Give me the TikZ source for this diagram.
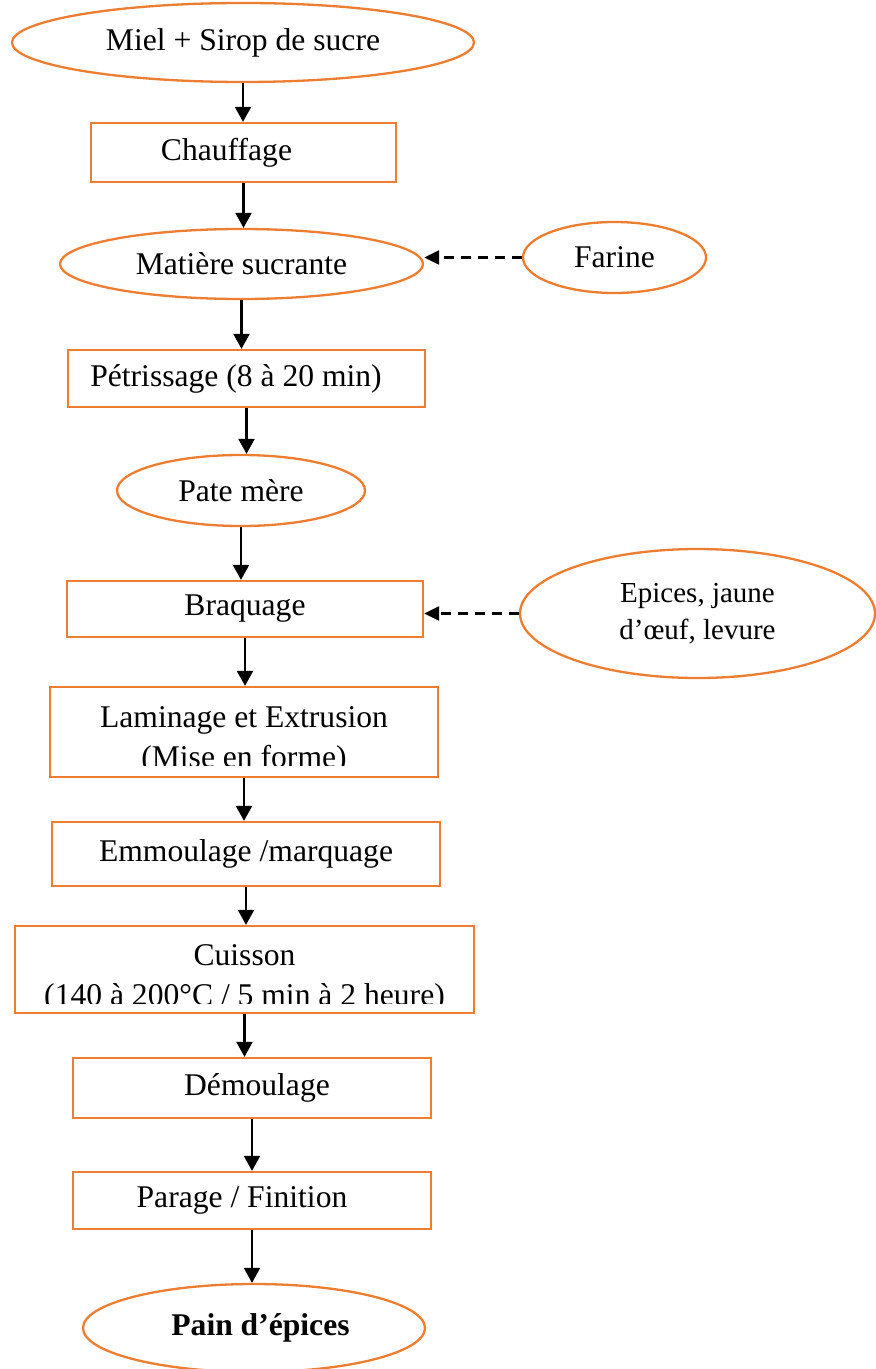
\documentclass[tikz,border=0pt]{standalone}
\usepackage{fontspec}
\setmainfont{Liberation Serif}
\usetikzlibrary{arrows.meta,shapes.geometric}
\definecolor{orangeword}{HTML}{ED7D31}
\tikzset{
>={Triangle[length=7.5pt,width=8pt]},
boite/.style={rectangle,draw=orangeword,line width=1.15pt,inner sep=0pt},
ovale/.style={ellipse,draw=orangeword,line width=1.15pt,inner sep=0pt},
fleche/.style={->,line width=1.15pt},
pointille/.style={-{Triangle[length=7.5pt,width=7pt]},line width=1.15pt,dash pattern=on 5pt off 3.5pt}}

\begin{document}
\begin{tikzpicture}[x=0.5pt,y=-0.5pt,font=\fontsize{15.8}{20}\selectfont]
\useasboundingbox (0,0) rectangle (875,1369);

\node[ovale,minimum width=231pt,minimum height=39.5pt] (miel) at (243,42.5) {Miel + Sirop de sucre};
\node[boite,minimum width=152.5pt,minimum height=29.5pt] (chauffage) at (243.5,152.5) {Chauffage\hspace*{17pt}};
\node[ovale,minimum width=181.5pt,minimum height=35pt] (sucrante) at (241.5,264) {Matière sucrante};
\node[ovale,minimum width=91.5pt,minimum height=35.5pt] (farine) at (614.5,257.5) {Farine};
\node[boite,minimum width=178.5pt,minimum height=28.5pt] (petrissage) at (246.5,378.5) {Pétrissage (8 à 20 min)\hspace*{10.5pt}};
\node[ovale,minimum width=124pt,minimum height=35.5pt] (pate) at (241,490.5) {Pate mère};
\node[boite,minimum width=178pt,minimum height=28pt] (braquage) at (245,609) {Braquage};
\node[ovale,minimum width=177.5pt,minimum height=64.5pt,align=center,font=\fontsize{14.5}{18.5}\selectfont] (epices) at (697.5,613.5) {Epices, jaune\\d’œuf, levure};

% textes coupes par le bas du cadre
\begin{scope}
\clip (50,687) rectangle (438,765.5);
\node[align=center,inner sep=0pt,anchor=base] (laminagetxt) at (244,767) {Laminage et Extrusion\\(Mise en forme)};
\end{scope}
\node[boite,minimum width=194pt,minimum height=45pt] (laminage) at (244,732) {};
\node[boite,minimum width=194pt,minimum height=32pt] (emmoulage) at (246,854) {Emmoulage /marquage};
\begin{scope}
\clip (15,926) rectangle (474,1003.5);
\node[align=center,inner sep=0pt,anchor=base] (cuissontxt) at (244.5,1005) {Cuisson\\(140 à 200°C / 5 min à 2 heure)};
\end{scope}
\node[boite,minimum width=229.5pt,minimum height=43.5pt] (cuisson) at (244.5,969.5) {};
\node[boite,minimum width=179pt,minimum height=30pt] (demoulage) at (252,1088) {\hspace*{5pt}Démoulage};
\node[boite,minimum width=179pt,minimum height=28.5pt] (parage) at (252,1200.5) {Parage / Finition\hspace*{10pt}};
\node[ovale,minimum width=171pt,minimum height=44pt] (pain) at (254,1328) {\hspace*{6.5pt}\textbf{Pain d’épices}};

% fleches
\foreach \a/\b in {miel/chauffage,chauffage/sucrante,sucrante/petrissage,petrissage/pate,
  pate/braquage,braquage/laminage,laminage/emmoulage,emmoulage/cuisson,
  cuisson/demoulage,demoulage/parage,parage/pain}
  \draw[fleche] (\a.south) -- (\a.south |- \b.north);

\draw[pointille] (farine.west) -- (farine.west -| sucrante.east);
\draw[pointille] (epices.west) -- (epices.west -| braquage.east);

\end{tikzpicture}
\end{document}
